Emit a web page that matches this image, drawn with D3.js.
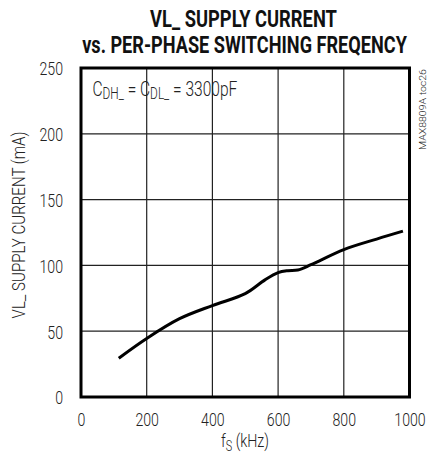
<!DOCTYPE html>
<html><head><meta charset="utf-8">
<script src="https://cdn.jsdelivr.net/npm/d3@7"></script>
<style>body{margin:0;background:#fff}</style>
</head><body>
<svg id="c" width="427" height="456"></svg>
<script>
const freqKHz = [115, 200, 300, 400, 500, 560, 600, 630, 660, 700, 800, 900, 980];
const supplyCurrent = [29.5, 44.5, 59.5, 69.5, 78.5, 89, 94.5, 96, 96.5, 100.5, 112, 120, 126];
const xTicks = [0, 200, 400, 600, 800, 1000];
const yTicks = [0, 50, 100, 150, 200, 250];
const titleLines = ["VL_ SUPPLY CURRENT", "vs. PER-PHASE SWITCHING FREQENCY"];

const svg = d3.select("#c");
const L = 81, R = 409.5, T = 68, B = 397;
const x = d3.scaleLinear().domain([0, 1000]).range([L, R]);
const y = d3.scaleLinear().domain([0, 250]).range([B, T]);
const font = "Roboto, 'Liberation Sans', sans-serif";
const SX = 0.73;

// grid
svg.append("g").selectAll("line").data(xTicks.slice(1, -1)).join("line")
  .attr("x1", d => x(d)).attr("x2", d => x(d)).attr("y1", T).attr("y2", B)
  .attr("stroke", "#222").attr("stroke-width", 1.2);
svg.append("g").selectAll("line").data(yTicks.slice(1, -1)).join("line")
  .attr("y1", d => y(d)).attr("y2", d => y(d)).attr("x1", L).attr("x2", R)
  .attr("stroke", "#222").attr("stroke-width", 1.2);

// frame
svg.append("rect").attr("x", L).attr("y", T).attr("width", R - L).attr("height", B - T)
  .attr("fill", "none").attr("stroke", "#000").attr("stroke-width", 3);

// axes
const xAxis = svg.append("g").attr("transform", `translate(0,${B})`)
  .call(d3.axisBottom(x).tickValues(xTicks).tickSize(0).tickFormat(d3.format("d")));
const yAxis = svg.append("g").attr("transform", `translate(${L},0)`)
  .call(d3.axisLeft(y).tickValues(yTicks).tickSize(0).tickFormat(d3.format("d")));
[xAxis, yAxis].forEach(a => {
  a.select(".domain").remove();
  a.selectAll("text").attr("font-family", font).attr("font-weight", 300)
    .attr("font-size", 19).attr("fill", "#222").attr("transform", `scale(${SX + 0.015},1)`);
});
xAxis.selectAll("text").attr("y", 29.5).attr("dy", 0);
yAxis.selectAll("text").attr("x", -18 / (SX + 0.015)).attr("dy", "0.36em");

// curve
const line = d3.line().x((d, i) => x(freqKHz[i])).y(d => y(d)).curve(d3.curveCatmullRom.alpha(0.5));
svg.append("path").datum(supplyCurrent).attr("d", line)
  .attr("fill", "none").attr("stroke", "#000").attr("stroke-width", 3);

function fit(g, tx, ty, w, rot) {
  const bw = g.node().getBBox().width;
  g.attr("transform", `translate(${tx},${ty})${rot ? " rotate(" + rot + ")" : ""} scale(${w / bw},1)`);
}

// title
const t1 = svg.append("g");
t1.append("text").attr("text-anchor", "middle").attr("font-family", font).attr("font-weight", "bold")
  .attr("font-size", 24).attr("fill", "#111").text(titleLines[0]);
fit(t1, 243.5, 26.5, 187);
const t2 = svg.append("g");
t2.append("text").attr("text-anchor", "middle").attr("font-family", font).attr("font-weight", "bold")
  .attr("font-size", 24).attr("fill", "#111").text(titleLines[1]);
fit(t2, 244.5, 53, 325);

// x title
const xg = svg.append("g");
const xt = xg.append("text").attr("text-anchor", "middle")
  .attr("font-family", font).attr("font-weight", 300).attr("font-size", 18.5).attr("fill", "#222");
xt.append("tspan").text("f");
xt.append("tspan").attr("font-size", 14).attr("dy", 4).text("S");
xt.append("tspan").attr("dy", -4).text(" (kHz)");
fit(xg, 245, 447, 48);

// y title
const yg = svg.append("g");
yg.append("text").attr("text-anchor", "middle").attr("font-family", font).attr("font-weight", 300)
  .attr("font-size", 18.5).attr("fill", "#222").text("VL_ SUPPLY CURRENT (mA)");
fit(yg, 25, 225, 187, -90);

// annotation
const ag = svg.append("g");
const an = ag.append("text").attr("font-family", font).attr("font-weight", 300)
  .attr("font-size", 21).attr("fill", "#222");
an.append("tspan").text("C");
an.append("tspan").attr("font-size", 16).attr("dy", 3).text("DH_");
an.append("tspan").attr("dy", -3).text(" = C");
an.append("tspan").attr("font-size", 16).attr("dy", 3).text("DL_");
an.append("tspan").attr("dy", -3).text(" = 3300pF");
fit(ag, 92.5, 96, 145);

// side id
const sg = svg.append("g");
sg.append("text").attr("font-family", font).attr("font-weight", 300)
  .attr("font-size", 9).attr("fill", "#222").text("MAX8809A toc26");
fit(sg, 425.5, 150, 81, -90);
</script>
</body></html>
